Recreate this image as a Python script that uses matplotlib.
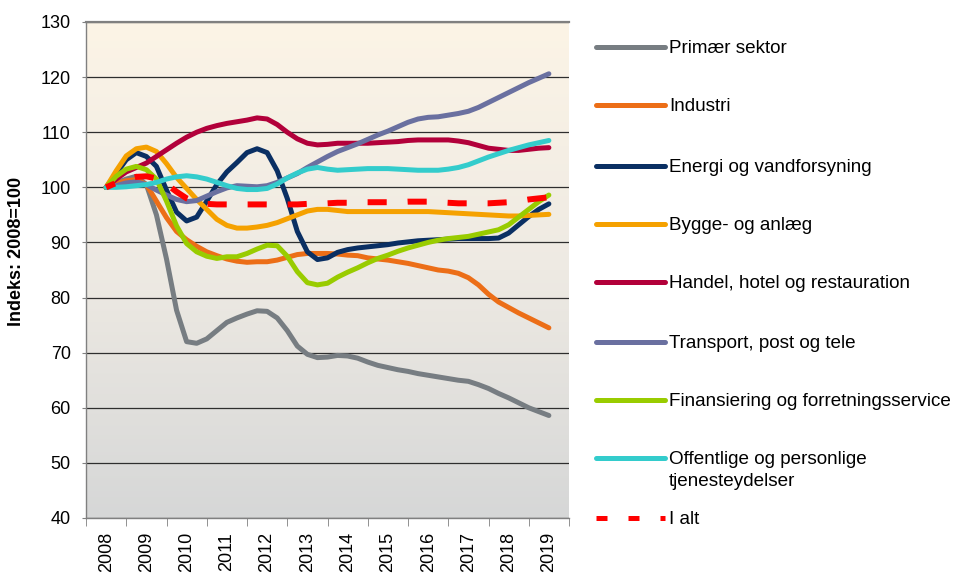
import numpy as np
import matplotlib.pyplot as plt
from matplotlib.lines import Line2D
from matplotlib.colors import LinearSegmentedColormap

plt.rcParams['font.family'] = ['Liberation Sans', 'DejaVu Sans']

# quarterly index values, 2008 = 100
quarters = np.arange(2008, 2019.01, 0.25)
years = list(range(2008, 2020))

primaer = [100, 100.8, 101.5, 102, 100.5, 95, 87, 77.7, 72, 71.7, 72.5, 74, 75.5, 76.3, 77, 77.6,
           77.5, 76.3, 74, 71.2, 69.7, 69.1, 69.2, 69.5, 69.4, 69.0, 68.3, 67.7, 67.3, 66.9, 66.6,
           66.2, 65.9, 65.6, 65.3, 65.0, 64.8, 64.2, 63.5, 62.6, 61.8, 60.9, 60.0, 59.3, 58.6]
industri = [100, 100.7, 101.2, 101.4, 100.5, 97.5, 94.5, 92, 90.5, 89.3, 88.3, 87.6, 87, 86.6, 86.4,
            86.5, 86.5, 86.8, 87.3, 87.8, 88.0, 88.0, 88.0, 87.9, 87.7, 87.6, 87.2, 87.0, 86.8, 86.5,
            86.2, 85.8, 85.4, 85.0, 84.8, 84.4, 83.6, 82.3, 80.6, 79.2, 78.2, 77.2, 76.3, 75.4, 74.5]
energi = [100, 102.5, 105, 106.3, 105.6, 103.8, 99.5, 95.5, 93.9, 94.6, 97.5, 100.5, 102.8, 104.5,
          106.3, 107, 106.3, 103, 98, 92, 88.3, 86.9, 87.2, 88.2, 88.7, 89.0, 89.2, 89.4, 89.6, 89.9,
          90.1, 90.3, 90.4, 90.5, 90.6, 90.7, 90.7, 90.7, 90.7, 90.8, 91.7, 93.2, 94.7, 96.0, 97.0]
bygge = [100, 103, 105.7, 107, 107.3, 106.5, 104.3, 101.8, 99.8, 97.8, 96, 94.2, 93.1, 92.6, 92.6,
         92.8, 93.1, 93.6, 94.3, 95.0, 95.7, 96.0, 96.0, 95.8, 95.6, 95.6, 95.6, 95.6, 95.6, 95.6,
         95.6, 95.6, 95.6, 95.5, 95.4, 95.3, 95.2, 95.1, 95.0, 94.9, 94.8, 94.8, 94.9, 95.0, 95.1]
handel = [100, 101.5, 102.8, 103.6, 104.4, 105.6, 106.8, 108, 109.1, 110, 110.7, 111.2, 111.6, 111.9,
          112.2, 112.6, 112.4, 111.4, 110.0, 108.8, 108.0, 107.7, 107.8, 108.0, 108.0, 108.0, 108.0,
          108.1, 108.2, 108.3, 108.5, 108.6, 108.6, 108.6, 108.6, 108.4, 108.1, 107.6, 107.1, 106.9,
          106.7, 106.7, 106.9, 107.1, 107.2]
transport = [100, 100.3, 100.8, 101, 100.5, 99.5, 98.6, 97.8, 97.4, 97.6, 98.4, 99.2, 99.9, 100.3,
             100.2, 100.1, 100.3, 100.9, 101.7, 102.5, 103.6, 104.6, 105.6, 106.5, 107.2, 107.9, 108.7,
             109.5, 110.2, 111.0, 111.8, 112.4, 112.7, 112.8, 113.1, 113.4, 113.8, 114.5, 115.4, 116.3,
             117.2, 118.1, 119.0, 119.8, 120.6]
finans = [100, 102, 103.3, 103.8, 103.2, 101.5, 97.5, 93, 89.8, 88.3, 87.5, 87.1, 87.4, 87.4, 88.0,
          88.8, 89.5, 89.4, 87.5, 84.7, 82.7, 82.3, 82.6, 83.7, 84.6, 85.4, 86.3, 87.1, 87.7, 88.4,
          89.0, 89.5, 90.0, 90.4, 90.7, 90.9, 91.1, 91.5, 91.9, 92.3, 93.2, 94.6, 96.0, 97.4, 98.6]
offentlig = [100, 100, 100.1, 100.3, 100.5, 100.9, 101.5, 101.9, 102.1, 101.9, 101.5, 100.9, 100.3,
             99.8, 99.6, 99.6, 99.8, 100.6, 101.7, 102.6, 103.3, 103.6, 103.3, 103.1, 103.2, 103.3,
             103.4, 103.4, 103.4, 103.3, 103.2, 103.1, 103.1, 103.1, 103.3, 103.6, 104.1, 104.8, 105.5,
             106.1, 106.7, 107.2, 107.7, 108.1, 108.5]
i_alt = [100, 100.8, 101.5, 101.9, 102.0, 101.6, 100.6, 99.2, 98.0, 97.3, 97.0, 96.9, 96.9, 96.9,
         96.9, 96.9, 96.9, 96.9, 96.9, 96.9, 97.0, 97.0, 97.1, 97.2, 97.2, 97.3, 97.3, 97.3, 97.3,
         97.3, 97.4, 97.4, 97.4, 97.3, 97.2, 97.1, 97.1, 97.1, 97.1, 97.2, 97.3, 97.5, 97.8, 98.0, 98.2]

series = [
    ('Primær sektor', primaer, '#777D82'),
    ('Industri', industri, '#EC6E17'),
    ('Energi og vandforsyning', energi, '#0A2F63'),
    ('Bygge- og anlæg', bygge, '#F5A100'),
    ('Handel, hotel og restauration', handel, '#B2003A'),
    ('Transport, post og tele', transport, '#6A70A0'),
    ('Finansiering og forretningsservice', finans, '#99CC00'),
    ('Offentlige og personlige\ntjenesteydelser', offentlig, '#33CCCC'),
]

fig = plt.figure(figsize=(9.61, 5.73), dpi=100)
ax = fig.add_axes([86 / 961, 55 / 573, 483 / 961, 496 / 573])

# background gradient cream -> grey
cmap = LinearSegmentedColormap.from_list('bg', ['#D6D7D7', '#EEEAE3', '#FCF4E6'])
grad = np.linspace(0, 1, 256).reshape(-1, 1)
ax.imshow(grad, extent=[2007.5, 2019.5, 40, 130], origin='lower', aspect='auto',
          cmap=cmap, zorder=0)

for name, vals, col in series:
    ax.plot(quarters, vals, color=col, lw=3.6, solid_capstyle='round', zorder=2)
ax.plot(quarters, i_alt, color='#FF0000', lw=4.3, linestyle=(1.6, (3.2, 3.5)),
        dash_capstyle='butt', zorder=3)

ax.set_xlim(2007.5, 2019.5)
ax.set_ylim(40, 130)
ax.set_yticks(range(40, 131, 10))
ax.set_xticks(years)
ax.set_xticklabels([str(y) for y in years], rotation=90)
ax.set_xticks(np.arange(2007.5, 2019.6, 1), minor=True)
ax.tick_params(axis='x', which='major', length=0, pad=10, labelsize=13)
ax.tick_params(axis='x', which='minor', length=6, color='#808080', direction='out')
ax.tick_params(axis='y', length=3, color='#808080', pad=8, labelsize=13)

ax.yaxis.grid(True, color='#2E2E2E', lw=0.9)
ax.set_axisbelow(True)
ax.spines['right'].set_visible(False)
ax.spines['top'].set_color('#808080')
ax.spines['top'].set_linewidth(1.6)
for s in ['left', 'bottom']:
    ax.spines[s].set_color('#808080')
    ax.spines[s].set_linewidth(1.0)

ax.set_ylabel('Indeks: 2008=100', fontsize=13, fontweight='bold')
ax.yaxis.set_label_coords(-0.126, 0.538)

# legend drawn by hand to the right of the plot
rows = [47, 105, 166, 224, 282, 342, 400, 458]
x0, x1, xt = 596 / 961, 665 / 961, 669 / 961
for (name, vals, col), r in zip(series, rows):
    y = 1 - r / 573
    fig.add_artist(Line2D([x0, x1], [y, y], color=col, lw=3.6, solid_capstyle='round'))
    fig.text(xt, y + 7 / 573, name, fontsize=13.6, va='top', ha='left', linespacing=1.4)
y = 1 - 518 / 573
fig.add_artist(Line2D([x0, x1], [y, y], color='#FF0000', lw=3.6,
                      linestyle=(0, (2.2, 4.2)), dash_capstyle='butt'))
fig.text(xt, y - 2 / 573, 'I alt', fontsize=13.6, va='center', ha='left')

fig.savefig('out.png', dpi=100)
